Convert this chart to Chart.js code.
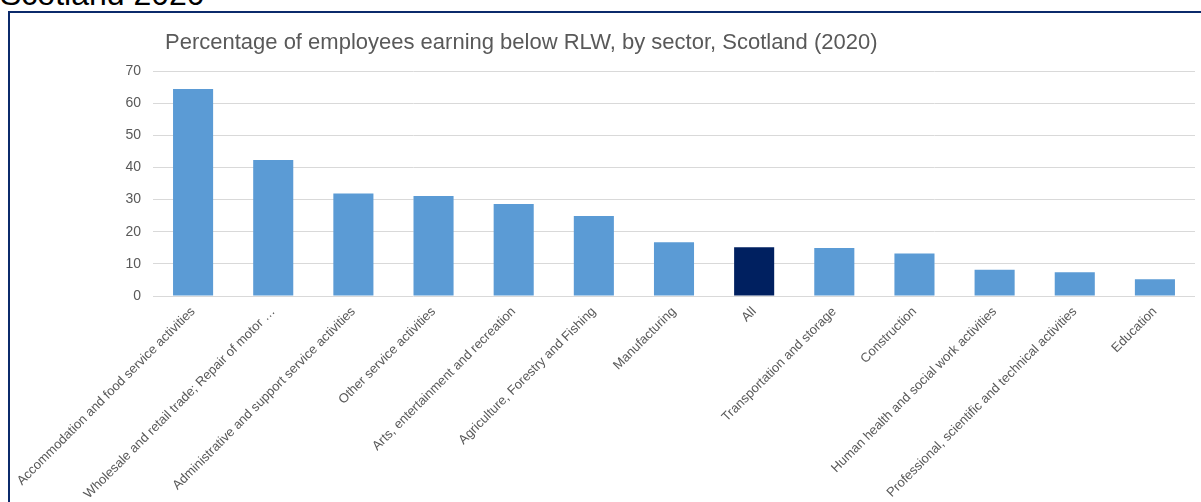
<!DOCTYPE html>
<html>
<head>
<meta charset="utf-8">
<script src="https://cdn.jsdelivr.net/npm/chart.js@4"></script>
<style>
	body { margin: 0; background: #fff; overflow: hidden; font-family: "Liberation Sans", Arial, sans-serif; }
	#heading { position: absolute; left: 0; top: -22px; font-size: 32px; line-height: 32px; color: #000; white-space: nowrap; }
	#box { position: absolute; left: 8px; top: 11px; width: 1300px; height: 600px; border-left: 2px solid #0b2a6b; border-top: 2px solid #0b2a6b; }
	#wrap { position: absolute; left: 10px; top: 13px; width: 1191px; height: 489px; }
</style>
</head>
<body>
<div id="heading">Scotland 2020</div>
<div id="box"></div>
<div id="wrap"><canvas id="my-chart"></canvas></div>
<script>
// DATA
let sectors = [
	'Accommodation and food service activities',
	'Wholesale and retail trade; Repair of motor …',
	'Administrative and support service activities',
	'Other service activities',
	'Arts, entertainment and recreation',
	'Agriculture, Forestry and Fishing',
	'Manufacturing',
	'All',
	'Transportation and storage',
	'Construction',
	'Human health and social work activities',
	'Professional, scientific and technical activities',
	'Education'
];
let percentBelowRLW = [64.4, 42.3, 31.9, 31.1, 28.6, 24.9, 16.7, 15.2, 14.9, 13.2, 8.2, 7.4, 5.2];
let yTicks = [0, 10, 20, 30, 40, 50, 60, 70];
let chartTitle = 'Percentage of employees earning below RLW, by sector, Scotland (2020)';

// BAR COLOURS, THE "ALL" BAR IS DARK
let barColors = sectors.map(s => s == 'All' ? '#002060' : '#5b9bd5');

// DRAW THE TITLE NEXT TO THE PLOT AREA
const titlePlugin = {
	id: 'leftTitle',
	afterDraw(chart) {
		let ctx = chart.ctx;
		ctx.save();
		ctx.font = '22px "Liberation Sans", Arial, sans-serif';
		ctx.fillStyle = '#595959';
		ctx.textBaseline = 'alphabetic';
		ctx.fillText(chartTitle, chart.chartArea.left + 12, 36);
		ctx.restore();
	}
};

const ctx = document.getElementById('my-chart');
new Chart(ctx, {
	type: 'bar',
	data: {
		labels: sectors,
		datasets: [{
			data: percentBelowRLW,
			backgroundColor: barColors,
			barPercentage: 0.5,
			categoryPercentage: 1
		}]
	},
	options: {
		responsive: true,
		maintainAspectRatio: false,
		animation: false,
		layout: { padding: { top: 58, right: 6, bottom: 0, left: 0 } },
		plugins: {
			legend: { display: false },
			tooltip: { enabled: false }
		},
		scales: {
			x: {
				grid: { display: false },
				border: { display: false },
				ticks: {
					autoSkip: false,
					maxRotation: 45,
					minRotation: 45,
					padding: 0,
					color: '#595959',
					font: { family: '"Liberation Sans", Arial, sans-serif', size: 13 }
				},
				afterFit: scale => { scale.height = 206; }
			},
			y: {
				min: 0,
				max: 70,
				afterBuildTicks: scale => { scale.ticks = yTicks.map(v => ({ value: v })); },
				grid: { color: '#d9d9d9', lineWidth: 1, drawTicks: false },
				border: { display: false },
				ticks: {
					padding: 12,
					color: '#595959',
					font: { family: '"Liberation Sans", Arial, sans-serif', size: 14 }
				},
				afterFit: scale => { scale.width = 143; }
			}
		}
	},
	plugins: [titlePlugin]
});
</script>
</body>
</html>
